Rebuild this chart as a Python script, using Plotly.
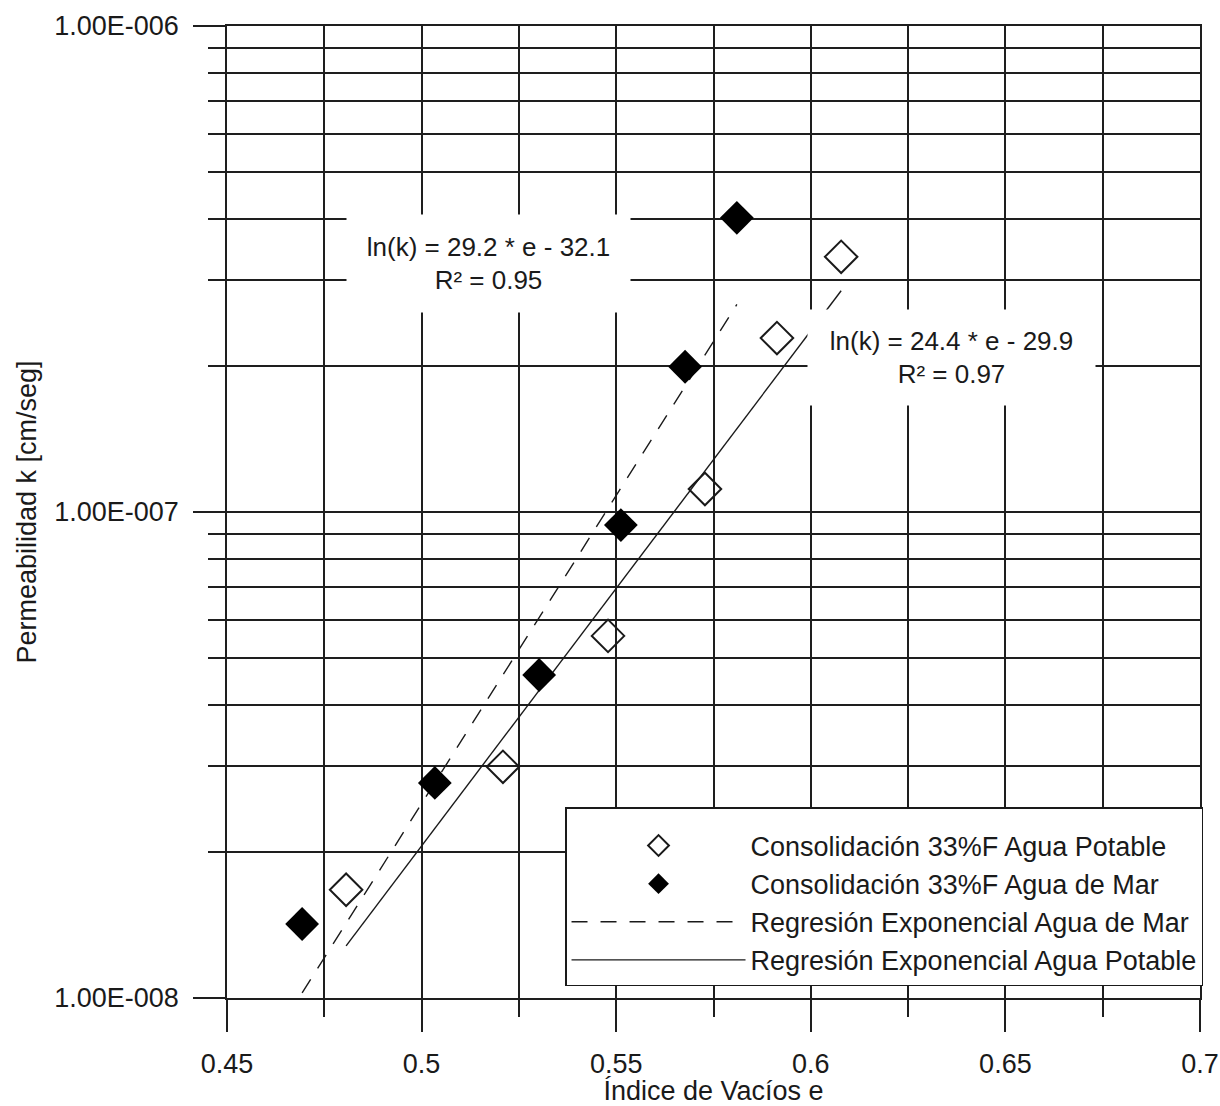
import numpy as np
import plotly.graph_objects as go

# Void ratio e and permeability k [cm/seg] from the consolidation tests (33% fines)
e_potable = [0.4806, 0.5209, 0.5479, 0.5728, 0.5913, 0.6078]
k_potable = [1.67e-8, 2.99e-8, 5.56e-8, 1.115e-7, 2.28e-7, 3.35e-7]

e_mar = [0.4693, 0.5034, 0.5302, 0.5512, 0.5677, 0.5810]
k_mar = [1.42e-8, 2.77e-8, 4.62e-8, 9.40e-8, 1.99e-7, 4.03e-7]

# Exponential regressions: ln(k) = slope * e + intercept
fit_mar = {"slope": 29.2, "intercept": -32.1, "r2": 0.95}
fit_potable = {"slope": 24.4, "intercept": -29.9, "r2": 0.97}

names = [
    "Consolidación 33%F Agua Potable",
    "Consolidación 33%F Agua de Mar",
    "Regresión Exponencial Agua de Mar",
    "Regresión Exponencial Agua Potable",
]

x_tickvals = [0.45, 0.5, 0.55, 0.6, 0.65, 0.7]
x_ticktext = ["0.45", "0.5", "0.55", "0.6", "0.65", "0.7"]
x_minor = [0.475, 0.525, 0.575, 0.625, 0.675]

y_tickvals = [1e-8, 1e-7, 1e-6]
y_ticktext = ["1.00E-008", "1.00E-007", "1.00E-006"]
y_minor = [m * 10.0 ** p for p in (-8, -7) for m in range(2, 10)]

FONT = "Liberation Sans, Arial, sans-serif"
INK = "#1a1a1a"
GRID = "#1e1e1e"


def fit_curve(e_vals, fit):
    e_line = np.linspace(min(e_vals), max(e_vals), 50)
    return e_line, np.exp(fit["slope"] * e_line + fit["intercept"])


def eq_text(fit):
    return (f"ln(k) = {fit['slope']:.1f} * e - {abs(fit['intercept']):.1f}"
            f"<br>R² = {fit['r2']:.2f}")


fig = go.Figure()

e_l, k_l = fit_curve(e_mar, fit_mar)
fig.add_trace(go.Scatter(
    x=e_l, y=k_l, mode="lines", name=names[2], legendrank=3,
    line=dict(color=INK, width=1.4, dash="16px,13px"),
))
e_l, k_l = fit_curve(e_potable, fit_potable)
fig.add_trace(go.Scatter(
    x=e_l, y=k_l, mode="lines", name=names[3], legendrank=4,
    line=dict(color=INK, width=1.4),
))
fig.add_trace(go.Scatter(
    x=e_potable, y=k_potable, mode="markers", name=names[0], legendrank=1,
    marker=dict(symbol="diamond-open", size=25, color=INK,
                line=dict(width=2, color=INK)),
))
fig.add_trace(go.Scatter(
    x=e_mar, y=k_mar, mode="markers", name=names[1], legendrank=2,
    marker=dict(symbol="diamond", size=26, color="black",
                line=dict(width=0)),
))

# Equation labels on white boxes that mask the grid behind them
fig.add_annotation(
    xref="paper", yref="paper", x=0.2688, y=0.7557,
    xanchor="center", yanchor="middle",
    text=eq_text(fit_mar), showarrow=False, align="center",
    width=283, height=97, bgcolor="white", borderpad=0,
    font=dict(family=FONT, size=26, color=INK),
)
fig.add_annotation(
    xref="paper", yref="paper", x=0.7446, y=0.6590,
    xanchor="center", yanchor="middle",
    text=eq_text(fit_potable), showarrow=False, align="center",
    width=287, height=95, bgcolor="white", borderpad=0,
    font=dict(family=FONT, size=26, color=INK),
)

fig.update_layout(
    width=1220, height=1106,
    margin=dict(l=227, r=20, t=26, b=108, autoexpand=False),
    paper_bgcolor="white", plot_bgcolor="white",
    font=dict(family=FONT, size=27, color=INK),
    showlegend=True,
    legend=dict(
        x=0.3474, y=0.1965, xanchor="left", yanchor="top",
        bgcolor="white", bordercolor=INK, borderwidth=1.5,
        itemwidth=174, font=dict(family=FONT, size=27, color=INK),
        title=dict(text=" ", font=dict(size=10)),
    ),
    xaxis=dict(
        range=[0.45, 0.7], tickmode="array", tickvals=x_tickvals, ticktext=x_ticktext,
        ticks="outside", ticklen=32, tickwidth=1.5, tickcolor=GRID,
        showgrid=True, gridcolor=GRID, gridwidth=1.5,
        showline=True, linecolor=GRID, linewidth=1.5, mirror=True,
        zeroline=False, ticklabelstandoff=9, automargin=False,
        minor=dict(tickmode="array", tickvals=x_minor, ticks="outside", ticklen=17,
                   tickwidth=1.5, tickcolor=GRID, showgrid=True,
                   gridcolor=GRID, gridwidth=1.5),
        title=dict(text="Índice de Vacíos e", standoff=1,
                   font=dict(family=FONT, size=27, color=INK)),
    ),
    yaxis=dict(
        type="log", range=[-8, -6], tickmode="array", tickvals=y_tickvals,
        ticktext=y_ticktext,
        ticks="outside", ticklen=32, tickwidth=1.5, tickcolor=GRID,
        showgrid=True, gridcolor=GRID, gridwidth=1.5,
        showline=True, linecolor=GRID, linewidth=1.5, mirror=True,
        zeroline=False, ticklabelstandoff=9, automargin=False,
        minor=dict(tickmode="array", tickvals=y_minor, ticks="outside", ticklen=17,
                   tickwidth=1.5, tickcolor=GRID, showgrid=True,
                   gridcolor=GRID, gridwidth=1.5),
        title=dict(text="Permeabilidad k [cm/seg]", standoff=10,
                   font=dict(family=FONT, size=27, color=INK)),
    ),
)

fig.write_html("out.html")
